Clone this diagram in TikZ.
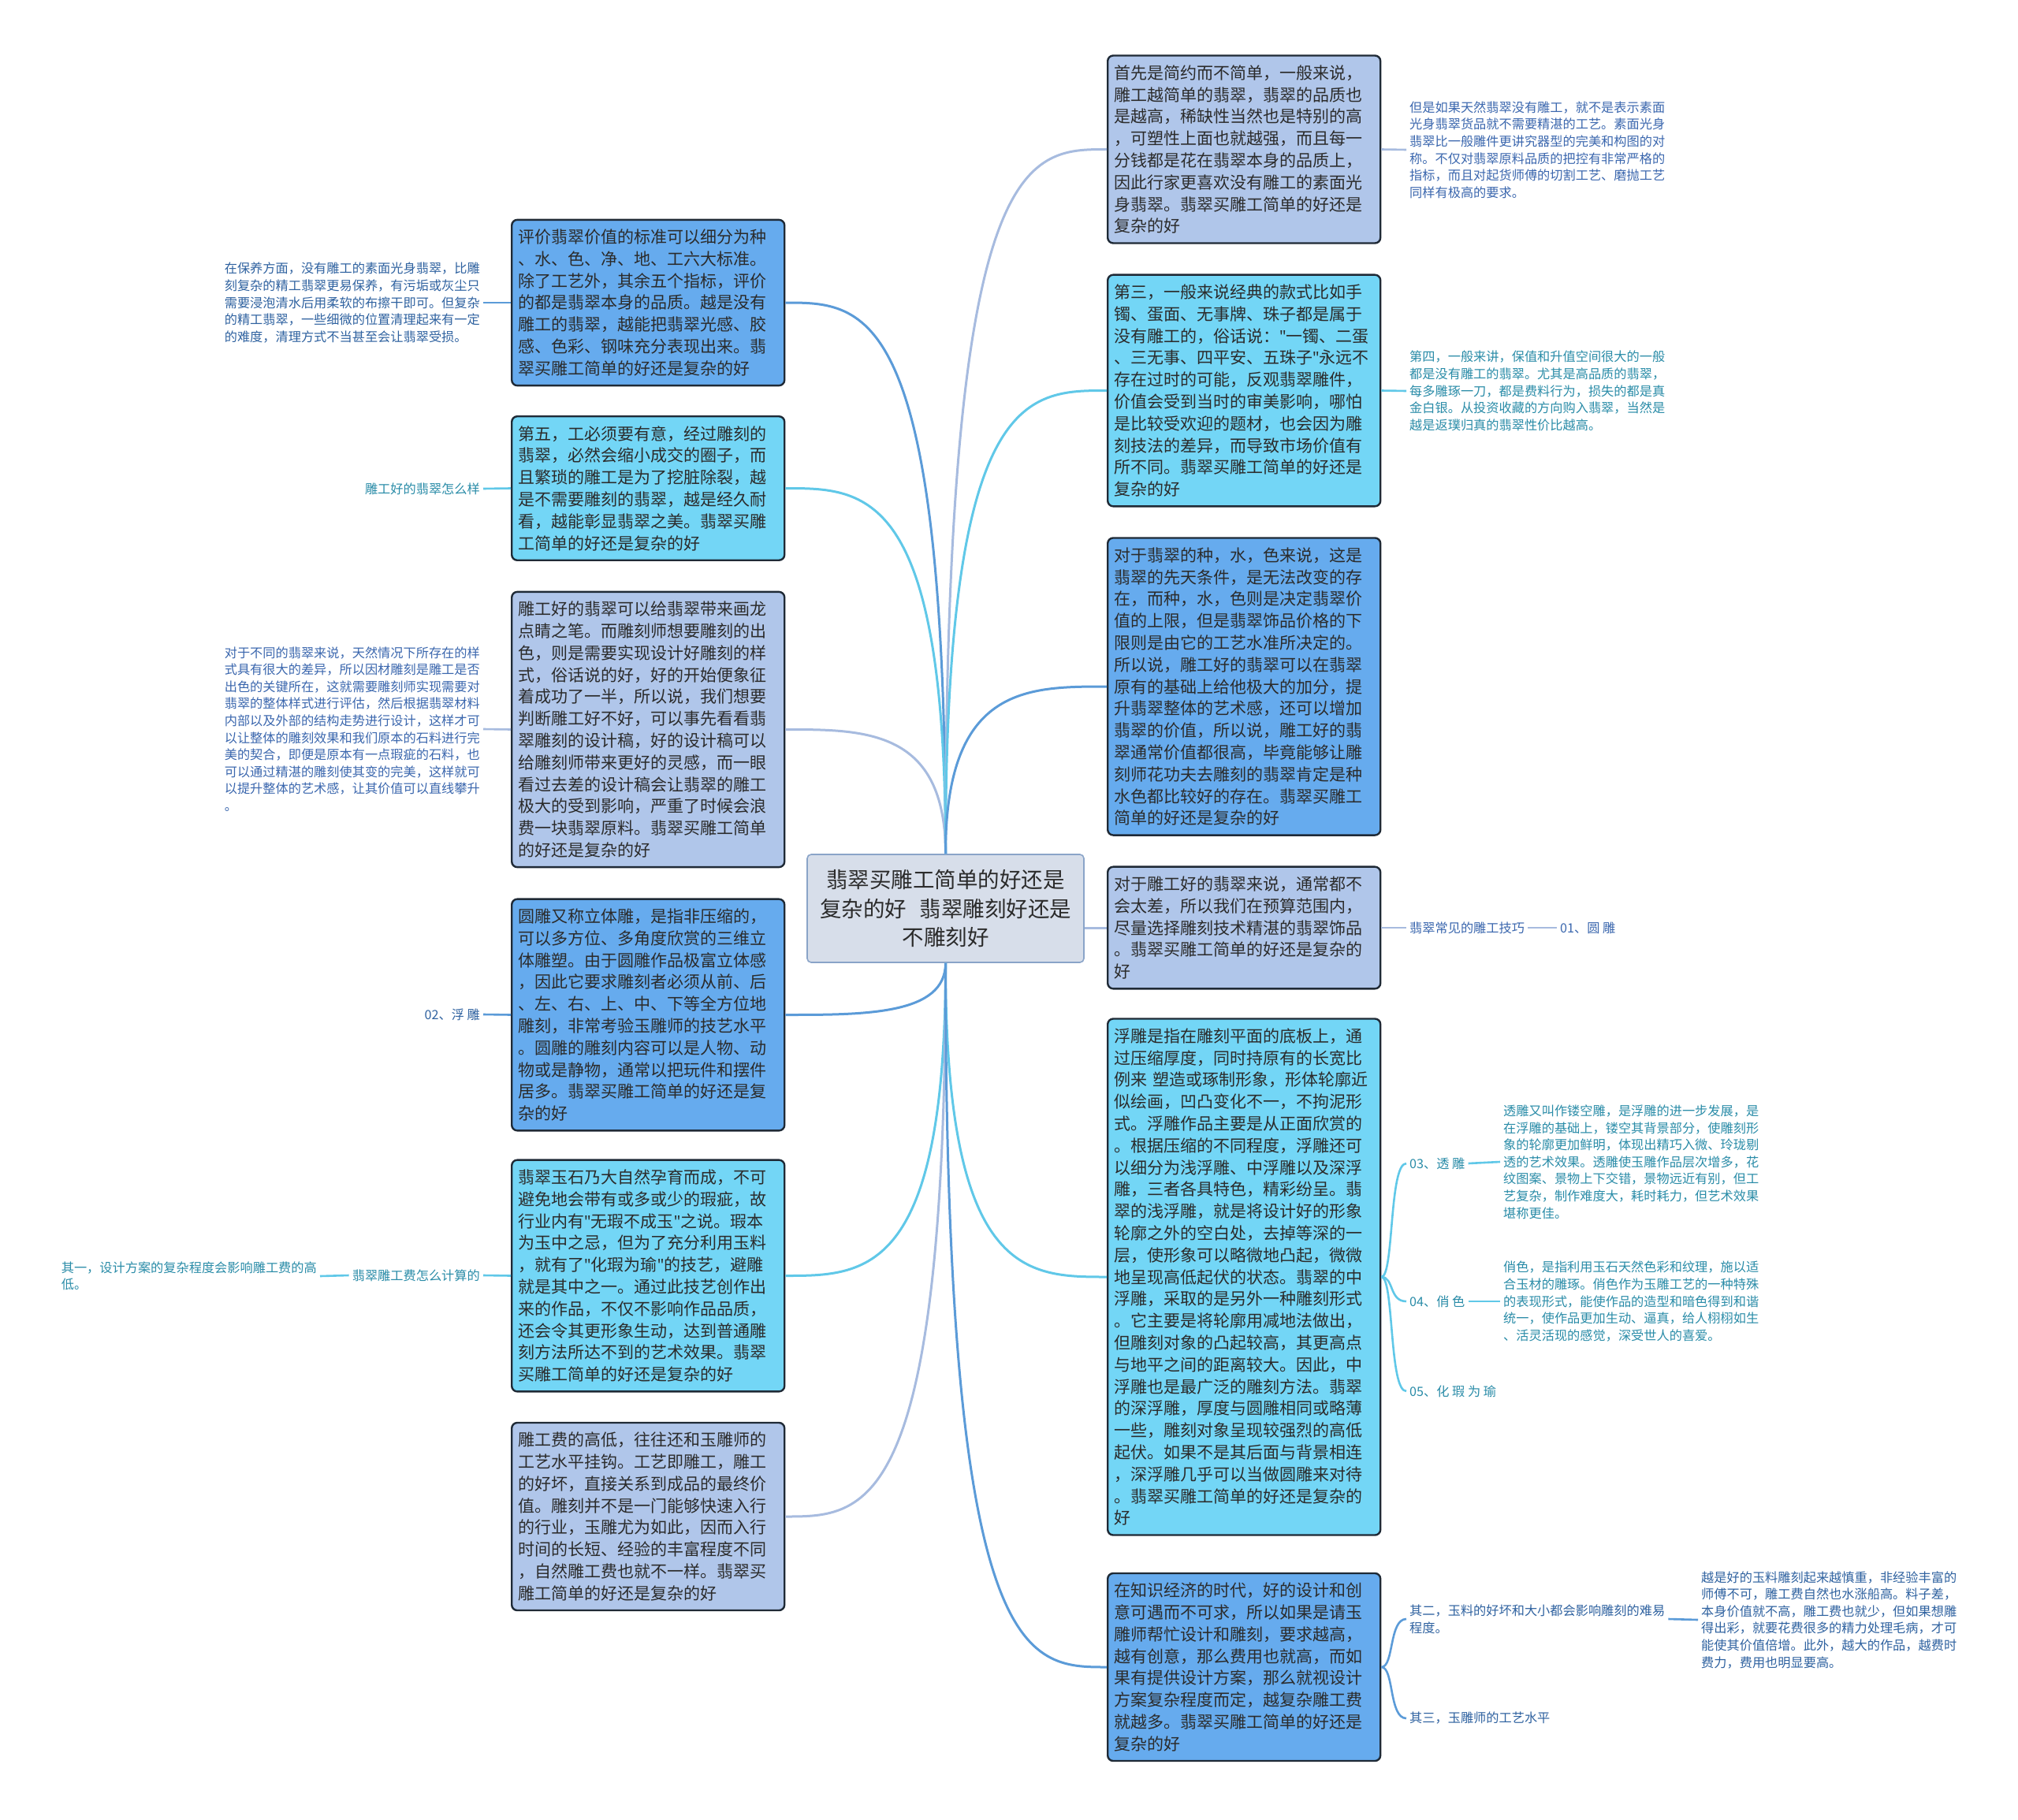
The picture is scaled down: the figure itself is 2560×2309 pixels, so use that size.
\documentclass[tikz,border=0pt]{standalone}
\usepackage{fontspec}
\setmainfont{Noto Sans CJK SC}
\newfontfamily\quotefont{Noto Sans}
\newcommand{\straightq}{{\quotefont"}}
\usepackage{tikz}
\usetikzlibrary{calc}
\definecolor{boxblue}{HTML}{66ABEE}
\definecolor{boxcyan}{HTML}{73D6F6}
\definecolor{boxlav}{HTML}{B0C6EA}
\definecolor{boxline}{HTML}{1F2A36}
\definecolor{boxtext}{HTML}{2B2B2B}
\definecolor{rootfill}{HTML}{D7DEEA}
\definecolor{rootline}{HTML}{8AA4C8}
\definecolor{lineblue}{HTML}{5B9BD8}
\definecolor{linecyan}{HTML}{60C8E8}
\definecolor{linelav}{HTML}{A7BBDF}
\definecolor{txtblue}{HTML}{2F62A0}
\definecolor{txtcyan}{HTML}{2A8CA8}
\definecolor{txtlav}{HTML}{3B67AE}

\begin{document}
\begin{tikzpicture}[x=1pt,y=-1pt,
  box/.style={draw=boxline,line width=2.4pt,rounded corners=7pt,text=boxtext,
    text width=330pt,inner xsep=8pt,inner ysep=12pt,align=left,anchor=west,
    font=\fontsize{21pt}{27.8pt}\selectfont},
  bluebox/.style={box,fill=boxblue},
  cyanbox/.style={box,fill=boxcyan},
  lavbox/.style={box,fill=boxlav},
  leaf/.style={inner sep=4pt,align=left,font=\fontsize{16.2pt}{21.6pt}\selectfont},
  leafl/.style={leaf,anchor=east},
  leafr/.style={leaf,anchor=west},
  branch/.style={line width=3pt,to path={.. controls (\tikztostart |- \tikztotarget)
    and ($(\tikztostart |- \tikztotarget)!0.5!(\tikztotarget)$) .. (\tikztotarget)}},
  bracket/.style={line width=2.6pt,to path={.. controls +(16,0) and +(-22,0) .. (\tikztotarget)}},
  twig/.style={line width=2.6pt},
]
\useasboundingbox (0,0) rectangle (2560,2309);
\fill[white] (0,0) rectangle (2560,2309);

% root:
\node[draw=rootline,line width=1.6pt,fill=rootfill,rounded corners=5pt,
  minimum width=351pt,minimum height=137pt,align=center,text=boxtext,
  font=\fontsize{27.5pt}{36.7pt}\selectfont] (root) at (1199.5,1152.5)
  {翡翠买雕工简单的好还是\\复杂的好\hspace{0.6em}翡翠雕刻好还是\\不雕刻好};

% left boxes:
\node[bluebox] (l1) at (648,384) {评价翡翠价值的标准可以细分为种\\、水、色、净、地、工六大标准。\\除了工艺外，其余五个指标，评价\\的都是翡翠本身的品质。越是没有\\雕工的翡翠，越能把翡翠光感、胶\\感、色彩、钢味充分表现出来。翡\\翠买雕工简单的好还是复杂的好};
\node[cyanbox] (l2) at (648,619.5) {第五，工必须要有意，经过雕刻的\\翡翠，必然会缩小成交的圈子，而\\且繁琐的雕工是为了挖脏除裂，越\\是不需要雕刻的翡翠，越是经久耐\\看，越能彰显翡翠之美。翡翠买雕\\工简单的好还是复杂的好};
\node[lavbox] (l3) at (648,925.5) {雕工好的翡翠可以给翡翠带来画龙\\点睛之笔。而雕刻师想要雕刻的出\\色，则是需要实现设计好雕刻的样\\式，俗话说的好，好的开始便象征\\着成功了一半，所以说，我们想要\\判断雕工好不好，可以事先看看翡\\翠雕刻的设计稿，好的设计稿可以\\给雕刻师带来更好的灵感，而一眼\\看过去差的设计稿会让翡翠的雕工\\极大的受到影响，严重了时候会浪\\费一块翡翠原料。翡翠买雕工简单\\的好还是复杂的好};
\node[bluebox] (l4) at (648,1287.5) {圆雕又称立体雕，是指非压缩的，\\可以多方位、多角度欣赏的三维立\\体雕塑。由于圆雕作品极富立体感\\，因此它要求雕刻者必须从前、后\\、左、右、上、中、下等全方位地\\雕刻，非常考验玉雕师的技艺水平\\。圆雕的雕刻内容可以是人物、动\\物或是静物，通常以把玩件和摆件\\居多。翡翠买雕工简单的好还是复\\杂的好};
\node[cyanbox] (l5) at (648,1618.5) {翡翠玉石乃大自然孕育而成，不可\\避免地会带有或多或少的瑕疵，故\\行业内有\straightq 无瑕不成玉\straightq 之说。瑕本\\为玉中之忌，但为了充分利用玉料\\，就有了\straightq 化瑕为瑜\straightq 的技艺，避雕\\就是其中之一。通过此技艺创作出\\来的作品，不仅不影响作品品质，\\还会令其更形象生动，达到普通雕\\刻方法所达不到的艺术效果。翡翠\\买雕工简单的好还是复杂的好};
\node[lavbox] (l6) at (648,1924) {雕工费的高低，往往还和玉雕师的\\工艺水平挂钩。工艺即雕工，雕工\\的好坏，直接关系到成品的最终价\\值。雕刻并不是一门能够快速入行\\的行业，玉雕尤为如此，因而入行\\时间的长短、经验的丰富程度不同\\，自然雕工费也就不一样。翡翠买\\雕工简单的好还是复杂的好};

% right boxes:
\node[lavbox] (r1) at (1404,189.5) {首先是简约而不简单，一般来说，\\雕工越简单的翡翠，翡翠的品质也\\是越高，稀缺性当然也是特别的高\\，可塑性上面也就越强，而且每一\\分钱都是花在翡翠本身的品质上，\\因此行家更喜欢没有雕工的素面光\\身翡翠。翡翠买雕工简单的好还是\\复杂的好};
\node[cyanbox] (r2) at (1404,495.5) {第三，一般来说经典的款式比如手\\镯、蛋面、无事牌、珠子都是属于\\没有雕工的，俗话说：\straightq 一镯、二蛋\\、三无事、四平安、五珠子\straightq 永远不\\存在过时的可能，反观翡翠雕件，\\价值会受到当时的审美影响，哪怕\\是比较受欢迎的题材，也会因为雕\\刻技法的差异，而导致市场价值有\\所不同。翡翠买雕工简单的好还是\\复杂的好};
\node[bluebox] (r3) at (1404,871) {对于翡翠的种，水，色来说，这是\\翡翠的先天条件，是无法改变的存\\在，而种，水，色则是决定翡翠价\\值的上限，但是翡翠饰品价格的下\\限则是由它的工艺水准所决定的。\\所以说，雕工好的翡翠可以在翡翠\\原有的基础上给他极大的加分，提\\升翡翠整体的艺术感，还可以增加\\翡翠的价值，所以说，雕工好的翡\\翠通常价值都很高，毕竟能够让雕\\刻师花功夫去雕刻的翡翠肯定是种\\水色都比较好的存在。翡翠买雕工\\简单的好还是复杂的好};
\node[lavbox] (r4) at (1404,1177) {对于雕工好的翡翠来说，通常都不\\会太差，所以我们在预算范围内，\\尽量选择雕刻技术精湛的翡翠饰品\\。翡翠买雕工简单的好还是复杂的\\好};
\node[cyanbox] (r5) at (1404,1620) {浮雕是指在雕刻平面的底板上，通\\过压缩厚度，同时持原有的长宽比\\例来 塑造或琢制形象，形体轮廓近\\似绘画，凹凸变化不一，不拘泥形\\式。浮雕作品主要是从正面欣赏的\\。根据压缩的不同程度，浮雕还可\\以细分为浅浮雕、中浮雕以及深浮\\雕，三者各具特色，精彩纷呈。翡\\翠的浅浮雕，就是将设计好的形象\\轮廓之外的空白处，去掉等深的一\\层，使形象可以略微地凸起，微微\\地呈现高低起伏的状态。翡翠的中\\浮雕，采取的是另外一种雕刻形式\\。它主要是将轮廓用减地法做出，\\但雕刻对象的凸起较高，其更高点\\与地平之间的距离较大。因此，中\\浮雕也是最广泛的雕刻方法。翡翠\\的深浮雕，厚度与圆雕相同或略薄\\一些，雕刻对象呈现较强烈的高低\\起伏。如果不是其后面与背景相连\\，深浮雕几乎可以当做圆雕来对待\\。翡翠买雕工简单的好还是复杂的\\好};
\node[bluebox] (r6) at (1404,2115) {在知识经济的时代，好的设计和创\\意可遇而不可求，所以如果是请玉\\雕师帮忙设计和雕刻，要求越高，\\越有创意，那么费用也就高，而如\\果有提供设计方案，那么就视设计\\方案复杂程度而定，越复杂雕工费\\就越多。翡翠买雕工简单的好还是\\复杂的好};

% left leaves:
\node[leafl,text=txtblue] (l1a) at (613,384) {在保养方面，没有雕工的素面光身翡翠，比雕\\刻复杂的精工翡翠更易保养，有污垢或灰尘只\\需要浸泡清水后用柔软的布擦干即可。但复杂\\的精工翡翠，一些细微的位置清理起来有一定\\的难度，清理方式不当甚至会让翡翠受损。};
\node[leafl,text=txtcyan] (l2a) at (613,620) {雕工好的翡翠怎么样};
\node[leafl,text=txtlav] (l3a) at (613,925) {对于不同的翡翠来说，天然情况下所存在的样\\式具有很大的差异，所以因材雕刻是雕工是否\\出色的关键所在，这就需要雕刻师实现需要对\\翡翠的整体样式进行评估，然后根据翡翠材料\\内部以及外部的结构走势进行设计，这样才可\\以让整体的雕刻效果和我们原本的石料进行完\\美的契合，即便是原本有一点瑕疵的石料，也\\可以通过精湛的雕刻使其变的完美，这样就可\\以提升整体的艺术感，让其价值可以直线攀升\\。};
\node[leafl,text=txtblue] (l4a) at (613,1287) {02、浮 雕};
\node[leafl,text=txtcyan] (l5a) at (613,1618) {翡翠雕工费怎么计算的};
\node[leafl,text=txtcyan] (l5b) at (406,1619) {其一，设计方案的复杂程度会影响雕工费的高\\低。};

% right leaves:
\node[leafr,text=txtlav] (r1a) at (1784,190) {但是如果天然翡翠没有雕工，就不是表示素面\\光身翡翠货品就不需要精湛的工艺。素面光身\\翡翠比一般雕件更讲究器型的完美和构图的对\\称。不仅对翡翠原料品质的把控有非常严格的\\指标，而且对起货师傅的切割工艺、磨抛工艺\\同样有极高的要求。};
\node[leafr,text=txtcyan] (r2a) at (1784,496) {第四，一般来讲，保值和升值空间很大的一般\\都是没有雕工的翡翠。尤其是高品质的翡翠，\\每多雕琢一刀，都是费料行为，损失的都是真\\金白银。从投资收藏的方向购入翡翠，当然是\\越是返璞归真的翡翠性价比越高。};
\node[leafr,text=txtlav] (r4a) at (1784,1177) {翡翠常见的雕工技巧};
\node[leafr,text=txtlav] (r4b) at (1975,1177) {01、圆 雕};
\node[leafr,text=txtcyan] (r5a) at (1784,1476) {03、透 雕};
\node[leafr,text=txtcyan] (r5b) at (1784,1651) {04、俏 色};
\node[leafr,text=txtcyan] (r5c) at (1784,1765) {05、化 瑕 为 瑜};
\node[leafr,text=txtcyan] (r5d) at (1903,1474) {透雕又叫作镂空雕，是浮雕的进一步发展，是\\在浮雕的基础上，镂空其背景部分，使雕刻形\\象的轮廓更加鲜明，体现出精巧入微、玲珑剔\\透的艺术效果。透雕使玉雕作品层次增多，花\\纹图案、景物上下交错，景物远近有别，但工\\艺复杂，制作难度大，耗时耗力，但艺术效果\\堪称更佳。};
\node[leafr,text=txtcyan] (r5e) at (1903,1651) {俏色，是指利用玉石天然色彩和纹理，施以适\\合玉材的雕琢。俏色作为玉雕工艺的一种特殊\\的表现形式，能使作品的造型和暗色得到和谐\\统一，使作品更加生动、逼真，给人栩栩如生\\、活灵活现的感觉，深受世人的喜爱。};
\node[leafr,text=txtblue] (r6a) at (1784,2054) {其二，玉料的好坏和大小都会影响雕刻的难易\\程度。};
\node[leafr,text=txtblue] (r6b) at (1784,2180) {其三，玉雕师的工艺水平};
\node[leafr,text=txtblue] (r6c) at (2154,2055) {越是好的玉料雕刻起来越慎重，非经验丰富的\\师傅不可，雕工费自然也水涨船高。料子差，\\本身价值就不高，雕工费也就少，但如果想雕\\得出彩，就要花费很多的精力处理毛病，才可\\能使其价值倍增。此外，越大的作品，越费时\\费力，费用也明显要高。};

% branches from the root:
\draw[branch,draw=lineblue] (root.north) to (l1.east);
\draw[branch,draw=linecyan] (root.north) to (l2.east);
\draw[branch,draw=linelav] (root.north) to (l3.east);
\draw[branch,draw=lineblue] (root.south) to (l4.east);
\draw[branch,draw=linecyan] (root.south) to (l5.east);
\draw[branch,draw=linelav] (root.south) to (l6.east);
\draw[branch,draw=linelav] (root.north) to (r1.west);
\draw[branch,draw=linecyan] (root.north) to (r2.west);
\draw[branch,draw=lineblue] (root.north) to (r3.west);
\draw[line width=3pt,draw=linelav] (root.east |- r4.west) -- (r4.west);
\draw[branch,draw=linecyan] (root.south) to (r5.west);
\draw[branch,draw=lineblue] (root.south) to (r6.west);

% twigs:
\draw[twig,draw=lineblue] (l1a.east) -- (l1.west);
\draw[twig,draw=linecyan] (l2a.east) -- (l2.west);
\draw[twig,draw=linelav] (l3a.east) -- (l3.west);
\draw[twig,draw=lineblue] (l4a.east) -- (l4.west);
\draw[twig,draw=linecyan] (l5a.east) -- (l5.west);
\draw[twig,draw=linecyan] (l5b.east) -- (l5a.west);
\draw[twig,draw=linelav] (r1.east) -- (r1a.west);
\draw[twig,draw=linecyan] (r2.east) -- (r2a.west);
\draw[twig,draw=linelav] (r4.east) -- (r4a.west);
\draw[twig,draw=linelav] (r4a.east) -- (r4b.west);
\draw[bracket,draw=linecyan] (r5.east) to (r5a.west);
\draw[bracket,draw=linecyan] (r5.east) to (r5b.west);
\draw[bracket,draw=linecyan] (r5.east) to (r5c.west);
\draw[twig,draw=linecyan] (r5a.east) -- (r5d.west);
\draw[twig,draw=linecyan] (r5b.east) -- (r5e.west);
\draw[bracket,draw=lineblue] (r6.east) to (r6a.west);
\draw[bracket,draw=lineblue] (r6.east) to (r6b.west);
\draw[twig,draw=lineblue] (r6a.east) -- (r6c.west);
\end{tikzpicture}
\end{document}
